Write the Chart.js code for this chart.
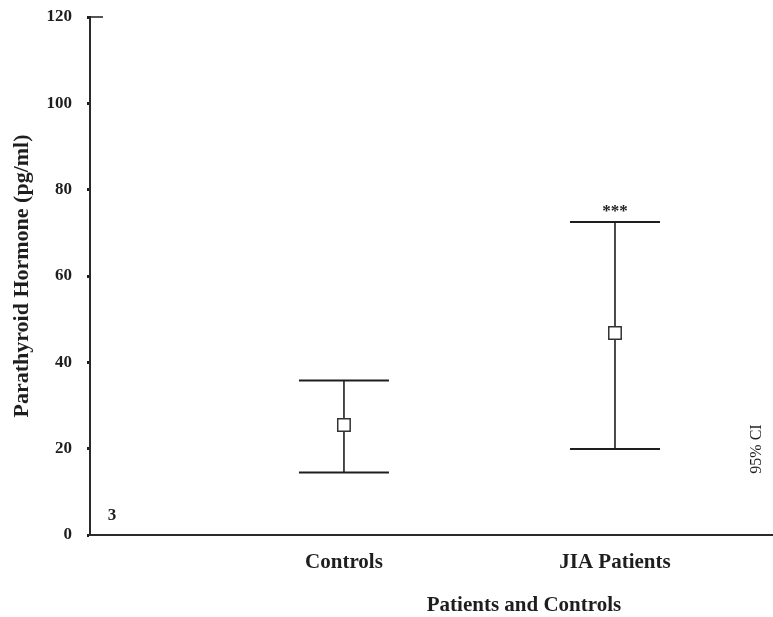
<!DOCTYPE html>
<html>
<head>
<meta charset="utf-8">
<script src="https://cdn.jsdelivr.net/npm/chart.js@4/dist/chart.umd.min.js"></script>
<style>
  html, body { margin: 0; padding: 0; background: #fff; }
  #wrap { width: 773px; height: 617px; }
</style>
</head>
<body>
<div id="wrap"><canvas id="ciChart" width="773" height="617"></canvas></div>
<script>
// data
const categories = ['Controls', 'JIA Patients'];
const catPos = [1, 2];
const means = [25.5, 46.8];
const lowerCI = [14.5, 19.9];
const upperCI = [35.8, 72.5];
const yTicks = [0, 20, 40, 60, 80, 100, 120];
const sigMarks = ['', '***'];
const panelNum = '3';

const SERIF = "'Liberation Serif', 'DejaVu Serif', serif";
const INK = '#1e1e1e';

// error bars + extra text
const ciPlugin = {
  id: 'ciPlugin',
  beforeDatasetsDraw(chart) {
    const { ctx, scales: { x, y } } = chart;
    const capHalf = 0.166; // in x units
    ctx.save();
    ctx.strokeStyle = INK;
    for (let i = 0; i < means.length; i++) {
      const px = x.getPixelForValue(catPos[i]);
      const yl = y.getPixelForValue(lowerCI[i]);
      const yu = y.getPixelForValue(upperCI[i]);
      const x0 = x.getPixelForValue(catPos[i] - capHalf);
      const x1 = x.getPixelForValue(catPos[i] + capHalf);
      ctx.lineWidth = 1.6;
      ctx.beginPath();
      ctx.moveTo(px, yl);
      ctx.lineTo(px, yu);
      ctx.stroke();
      ctx.lineWidth = 2;
      ctx.beginPath();
      ctx.moveTo(x0, yu); ctx.lineTo(x1, yu);
      ctx.moveTo(x0, yl); ctx.lineTo(x1, yl);
      ctx.stroke();
      if (sigMarks[i]) {
        ctx.fillStyle = INK;
        ctx.font = 'bold 17px ' + SERIF;
        ctx.textAlign = 'center';
        ctx.textBaseline = 'middle';
        ctx.fillText(sigMarks[i], px, yu - 10);
      }
    }
    ctx.restore();
  },
  afterDraw(chart) {
    const { ctx, chartArea, scales: { y } } = chart;
    ctx.save();
    // short tick to the right at the top value
    ctx.strokeStyle = INK;
    ctx.lineWidth = 1.5;
    const yt = y.getPixelForValue(120);
    ctx.beginPath();
    ctx.moveTo(chartArea.left, yt);
    ctx.lineTo(chartArea.left + 13, yt);
    ctx.stroke();

    ctx.fillStyle = INK;
    ctx.textAlign = 'center';
    ctx.textBaseline = 'middle';
    ctx.font = 'bold 21px ' + SERIF;
    ctx.fillText('Patients and Controls', 524, 606);

    ctx.font = 'bold 17px ' + SERIF;
    ctx.fillText(panelNum, 112, 516);

    ctx.translate(757, 449);
    ctx.rotate(-Math.PI / 2);
    ctx.font = '16px ' + SERIF;
    ctx.fillText('95% CI', 0, 0);
    ctx.restore();
  }
};

new Chart(document.getElementById('ciChart'), {
  type: 'scatter',
  data: {
    datasets: [{
      label: 'Mean',
      data: means.map((m, i) => ({ x: catPos[i], y: m })),
      pointStyle: 'rect',
      pointRadius: 8.8,
      pointHoverRadius: 8.8,
      pointBackgroundColor: '#fff',
      pointBorderColor: '#333',
      pointBorderWidth: 1.5,
      showLine: false
    }]
  },
  options: {
    responsive: false,
    animation: false,
    devicePixelRatio: 1,
    layout: { autoPadding: false, padding: { top: 17, right: 0, left: 0, bottom: 0 } },
    plugins: {
      legend: { display: false },
      tooltip: { enabled: false }
    },
    scales: {
      x: {
        type: 'linear',
        min: 0.063,
        max: 2.583,
        afterBuildTicks(s) { s.ticks = catPos.map(v => ({ value: v })); },
        afterFit(s) { s.height = 82; s.paddingLeft = 0; s.paddingRight = 0; },
        ticks: {
          callback: (v) => categories[Math.round(v) - 1],
          color: INK,
          padding: 15,
          maxRotation: 0,
          font: { family: SERIF, size: 21, weight: 'bold' }
        },
        grid: { display: false, drawTicks: false },
        border: { color: '#2a2a2a', width: 2 }
      },
      y: {
        min: 0,
        max: 120,
        afterBuildTicks(s) { s.ticks = yTicks.map(v => ({ value: v })); },
        // fixed width; drop the label overhang so the top sits where it should
        afterFit(s) { s.width = 90; s.paddingTop = 0; s.paddingBottom = 0; },
        ticks: {
          color: INK,
          padding: 15,
          font: { family: SERIF, size: 17, weight: 'bold' }
        },
        grid: { drawOnChartArea: false, tickLength: 3, tickWidth: 3, tickColor: INK },
        border: { color: '#2a2a2a', width: 2 },
        title: {
          display: true,
          text: 'Parathyroid Hormone (pg/ml)',
          color: INK,
          font: { family: SERIF, size: 22, weight: 'bold' },
          padding: { top: 9, bottom: 0 }
        }
      }
    }
  },
  plugins: [ciPlugin]
});
</script>
</body>
</html>
